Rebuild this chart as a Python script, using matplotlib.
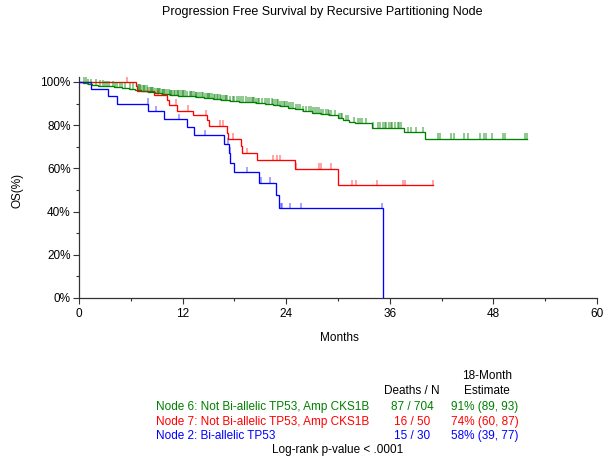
import matplotlib
matplotlib.use("Agg")
import matplotlib.pyplot as plt
import numpy as np

plt.rcParams['font.family'] = ['Liberation Sans', 'DejaVu Sans']

# ---- Kaplan-Meier step curves (months, survival %) ----
node6_t = [0, 0.5, 1.0, 1.5, 2.2, 3.0, 4.0, 5.0, 5.8, 6.5, 7.2, 8.0, 8.8, 9.6, 10.5,
           11.5, 12.5, 13.5, 14.5, 15.5, 16.5, 17.5, 18.5, 19.5, 20.5, 21.5, 22.5,
           23.3, 24.2, 25.0, 26.0, 27.0, 28.0, 29.0, 30.0, 30.6, 31.3, 32.0, 33.9,
           37.7, 40.1]
node6_s = [100, 99.6, 99.1, 98.7, 98.3, 98.0, 97.7, 97.4, 96.9, 96.4, 95.9, 95.3,
           94.8, 94.4, 94.0, 93.7, 93.3, 92.9, 92.5, 92.0, 91.6, 91.2, 90.9, 90.6,
           90.3, 89.9, 89.5, 88.9, 88.1, 87.3, 86.6, 85.8, 85.2, 84.6, 83.3, 82.4,
           81.5, 80.9, 78.9, 76.8, 73.8]
node6_cens = [0.6, 0.8, 1.1, 1.4, 2.0, 2.4, 2.8, 3.0, 3.3, 3.5, 3.9, 4.2, 4.4, 4.7,
              5.0, 5.3, 5.9, 6.3, 6.8, 6.9, 7.1, 7.2, 7.4, 7.5, 7.7, 7.9, 8.0, 8.2,
              8.3, 8.5, 8.6, 8.8, 9.0, 9.1, 9.3, 9.4, 9.6, 9.7, 9.9, 10.0, 10.2, 10.4,
              10.5, 10.7, 10.8, 11.0, 11.1, 11.3, 11.5, 11.6, 11.8, 12.0, 12.1, 12.3,
              12.5, 12.8, 13.0, 13.1, 13.3, 13.5, 13.6, 13.8, 14.0, 14.2, 14.4, 14.6,
              14.8, 14.9, 15.1, 15.2, 15.4, 15.6, 15.8, 16.0, 16.1, 16.3, 16.5, 16.7,
              16.9, 17.0, 17.2, 17.5, 17.8, 18.0, 18.3, 18.5, 18.8, 19.0, 19.3, 19.6,
              19.8, 20.0, 20.1, 20.3, 20.5, 20.7, 20.9, 21.2, 21.5, 21.8, 22.0, 22.3,
              22.5, 22.7, 22.9, 23.1, 23.3, 23.5, 23.7, 23.9, 24.1, 24.3, 24.5, 24.8,
              25.1, 25.4, 25.6, 26.0, 26.3, 26.6, 26.9, 27.1, 27.3, 27.6, 27.8, 28.0,
              28.3, 28.6, 28.8, 29.0, 29.2, 29.6, 30.1, 30.3, 30.5, 30.9, 31.2, 31.9,
              32.3, 32.6, 32.8, 33.3, 34.1, 34.6, 34.9, 35.2, 35.4, 35.6, 35.9, 36.1,
              36.3, 36.6, 36.9, 37.1, 37.3, 38.1, 38.5, 39.0, 39.9, 41.6, 41.8, 43.1,
              43.4, 44.6, 45.0, 46.4, 46.9, 47.1, 47.8, 49.15, 49.3, 51.7, 51.9]

node7_t = [0, 6.55, 6.75, 8.72, 10.16, 10.46, 11.39, 13.17, 14.86, 15.09, 17.11,
           17.26, 18.77, 18.92, 20.65, 25.0, 30.0]
node7_s = [100, 98.0, 95.9, 93.9, 91.6, 89.5, 86.8, 84.6, 82.2, 79.8, 76.6, 73.8,
           70.4, 67.1, 63.8, 59.8, 52.3]
node7_cens = [5.6, 9.2, 11.24, 12.66, 14.7, 16.3, 16.65, 17.87, 19.45, 22.5, 22.9,
              23.3, 25.15, 27.85, 28.05, 29.15, 31.6, 32.1, 34.5, 37.5, 37.8, 41.0]

node2_t = [0, 1.35, 3.4, 4.4, 8.0, 9.9, 12.55, 13.3, 16.8, 17.4, 17.5, 18.0, 20.8,
           22.8, 23.2, 35.2]
node2_s = [100, 96.7, 93.3, 90.0, 86.5, 82.9, 79.2, 75.4, 71.4, 67.2, 62.7, 58.3,
           53.4, 47.5, 41.5, 0]
node2_cens = [7.95, 8.9, 11.6, 14.6, 17.3, 17.45, 19.5, 21.1, 22.1, 23.35, 23.5,
              24.4, 25.7, 35.05]

groups = ["Node 6: Not Bi-allelic TP53, Amp CKS1B",
          "Node 7: Not Bi-allelic TP53, Amp CKS1B",
          "Node 2: Bi-allelic TP53"]
deaths_n = ["87 / 704", "16 / 50", "15 / 30"]
estimates = ["91% (89, 93)", "74% (60, 87)", "58% (39, 77)"]
colors = ["#008000", "#ff0000", "#0000ff"]

x_ticks = [0, 12, 24, 36, 48, 60]
y_ticks = [0, 20, 40, 60, 80, 100]

W, H = 611, 462
fig = plt.figure(figsize=(W / 100, H / 100), dpi=100)

y_top = 102.5
px_per_pct = 2.16
ax_left, ax_right, ax_bottom = 79, 597, 298
ax_top = ax_bottom - y_top * px_per_pct
ax = fig.add_axes([ax_left / W, 1 - ax_bottom / H,
                   (ax_right - ax_left) / W, (ax_bottom - ax_top) / H])
ax.set_xlim(0, 60)
ax.set_ylim(0, y_top)

series = [(node6_t, node6_s, node6_cens, colors[0], 0.55),
          (node7_t, node7_s, node7_cens, colors[1], 0.45),
          (node2_t, node2_s, node2_cens, colors[2], 0.45)]

for t, s, cens, col, a in series:
    t = list(t)
    s = list(s)
    if s[-1] > 0:
        # the curve runs on to the last follow-up time
        t = t + [max(cens)]
        s = s + [s[-1]]
    ax.step(t, s, where="post", color=col, lw=0.95, zorder=3,
            solid_joinstyle="miter")
    ct = np.array(cens)
    idx = np.searchsorted(np.array(t), ct, side="right") - 1
    cy = np.array(s)[idx]
    ax.vlines(ct, cy - 0.3, cy + 2.5, color=col, lw=1.1, alpha=a, zorder=4)

for sp in ["top", "right"]:
    ax.spines[sp].set_visible(False)
for sp in ["left", "bottom"]:
    ax.spines[sp].set_color("#333333")
    ax.spines[sp].set_linewidth(0.9)

ax.set_xticks(x_ticks)
ax.set_xticklabels([str(v) for v in x_ticks])
ax.set_xticks([6, 18, 30, 42, 54], minor=True)
ax.set_yticks(y_ticks)
ax.set_yticklabels([f"{v}%" for v in y_ticks])
ax.set_yticks([10, 30, 50, 70, 90], minor=True)
ax.tick_params(which="major", length=4.5, width=0.8, color="#333333",
               labelsize=8.5, pad=1.5)
ax.tick_params(axis="x", which="major", pad=3)
ax.tick_params(which="minor", length=2.5, width=0.8, color="#333333")


def ftext(x, y, s, size=8.5, **kw):
    fig.text(x / W, 1 - y / H, s, va="center", fontsize=size, **kw)


ftext(322, 12, "Progression Free Survival by Recursive Partitioning Node",
      size=9, ha="center")
ftext(339, 338, "Months", ha="center")
fig.text(18 / W, 1 - 190 / H, "OS(%)", rotation=90, va="center", ha="center",
         fontsize=8.5)

ftext(487, 376, "18-Month", ha="center")
ftext(412, 391, "Deaths / N", ha="center")
ftext(487, 391, "Estimate", ha="center")
for i, (g, dn, est, col) in enumerate(zip(groups, deaths_n, estimates, colors)):
    yy = 407 + i * 14.6
    ftext(156, yy, g, ha="left", color=col)
    ftext(412, yy, dn, ha="center", color=col)
    ftext(485, yy, est, ha="center", color=col)
ftext(338, 450, "Log-rank p-value < .0001", ha="center")

fig.savefig("out.png", dpi=100)
